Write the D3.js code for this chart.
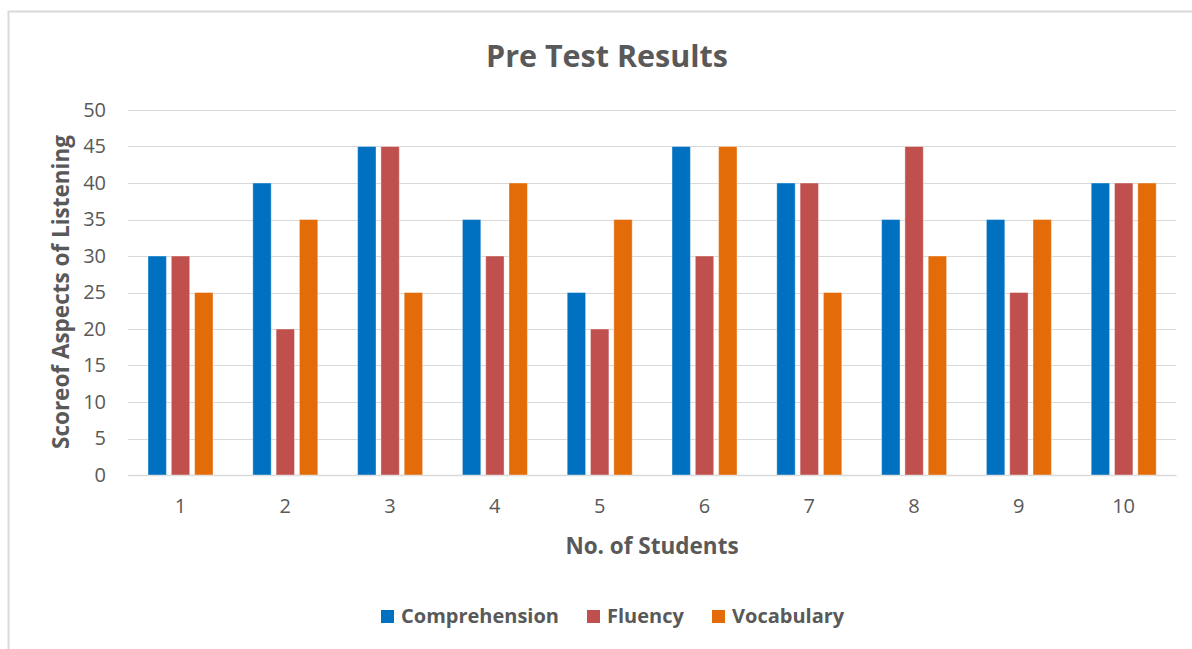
<!DOCTYPE html>
<html>
<head>
<meta charset="utf-8">
<script src="https://cdn.jsdelivr.net/npm/d3@7"></script>
<style>
  body { margin: 0; background: #fff; }
  text { font-family: "Open Sans", Lato, sans-serif; fill: #595959; }
</style>
</head>
<body>
<div id="chart"></div>
<script>
// pre test results - grouped bars

const students = ["1", "2", "3", "4", "5", "6", "7", "8", "9", "10"];
const seriesNames = ["Comprehension", "Fluency", "Vocabulary"];
const seriesColors = ["#0070C0", "#C0504D", "#E36C09"];
const comprehension = [30, 40, 45, 35, 25, 45, 40, 35, 35, 40];
const fluency = [30, 20, 45, 30, 20, 30, 40, 45, 25, 40];
const vocabulary = [25, 35, 25, 40, 35, 45, 25, 30, 35, 40];
const yTicks = [0, 5, 10, 15, 20, 25, 30, 35, 40, 45, 50];

const W = 1192, H = 649;
const margin = { top: 110, right: 16, bottom: 174, left: 128 };
const width = W - margin.left - margin.right;
const height = H - margin.top - margin.bottom;

const svg = d3.select("#chart")
    .append("svg")
    .attr("width", W)
    .attr("height", H);

// chart border (only top and left are visible in the picture)
svg.append("rect")
    .attr("x", 8.5)
    .attr("y", 11.5)
    .attr("width", W + 20)
    .attr("height", H + 20)
    .attr("fill", "none")
    .attr("stroke", "#d9d9d9")
    .attr("stroke-width", 2);

const g = svg.append("g")
    .attr("transform", `translate(${margin.left}, ${margin.top})`);

const x0 = d3.scaleBand()
    .domain(students)
    .range([0, width])
    .padding(0);

const x1 = d3.scaleBand()
    .domain(seriesNames)
    .range([20, 85])
    .paddingInner(0.21);

const y = d3.scaleLinear()
    .domain([0, 50])
    .range([height, 0]);

// gridlines
g.selectAll(".grid")
    .data(yTicks)
    .enter()
    .append("line")
    .attr("x1", 0)
    .attr("x2", width)
    .attr("y1", d => Math.round(y(d)) + 0.5)
    .attr("y2", d => Math.round(y(d)) + 0.5)
    .attr("stroke", "#d9d9d9")
    .attr("stroke-width", 1.2);

// y axis labels
const yAxis = d3.axisLeft(y).tickValues(yTicks).tickSize(0).tickPadding(22);
g.append("g")
    .call(yAxis)
    .call(a => a.select(".domain").remove())
    .selectAll("text")
    .style("font-size", "20px")
    .style("font-family", "'Open Sans', sans-serif")
    .style("fill", "#595959");

// x axis
const xAxis = d3.axisBottom(x0).tickSize(0).tickPadding(24);
g.append("g")
    .attr("transform", `translate(0, ${height})`)
    .call(xAxis)
    .call(a => a.select(".domain").attr("stroke", "#d9d9d9").attr("stroke-width", 1.5))
    .selectAll("text")
    .style("font-size", "20px")
    .style("font-family", "'Open Sans', sans-serif")
    .style("fill", "#595959");

// bars
const rows = students.map((s, i) => ({
    student: s,
    values: [comprehension[i], fluency[i], vocabulary[i]]
}));

const groups = g.selectAll(".group")
    .data(rows)
    .enter()
    .append("g")
    .attr("transform", d => `translate(${x0(d.student)}, 0)`);

groups.selectAll("rect")
    .data(d => d.values.map((v, j) => ({ key: seriesNames[j], value: v, color: seriesColors[j] })))
    .enter()
    .append("rect")
    .attr("x", d => x1(d.key))
    .attr("y", d => y(d.value))
    .attr("width", x1.bandwidth())
    .attr("height", d => height - y(d.value))
    .attr("fill", d => d.color)
    .attr("stroke", "#fff")
    .attr("stroke-opacity", 0.4)
    .attr("stroke-width", 1);

// title
svg.append("text")
    .attr("x", 607)
    .attr("y", 67)
    .attr("text-anchor", "middle")
    .style("font-size", "30.5px")
    .style("font-weight", "bold")
    .text("Pre Test Results");

// axis titles
svg.append("text")
    .attr("x", 652)
    .attr("y", 554)
    .attr("text-anchor", "middle")
    .style("font-size", "22.5px")
    .style("font-weight", "bold")
    .text("No. of Students");

svg.append("text")
    .attr("transform", `translate(69, 292) rotate(-90)`)
    .attr("text-anchor", "middle")
    .style("font-size", "22.5px")
    .style("font-weight", "bold")
    .text("Scoreof Aspects of Listening");

// legend
const legendX = [381, 587, 712];
const legend = svg.selectAll(".legend")
    .data(seriesNames)
    .enter()
    .append("g")
    .attr("transform", (d, i) => `translate(${legendX[i]}, 610)`);

legend.append("rect")
    .attr("width", 13)
    .attr("height", 13)
    .attr("fill", (d, i) => seriesColors[i]);

legend.append("text")
    .attr("x", 20)
    .attr("y", 13)
    .style("font-size", "20px")
    .style("font-weight", "bold")
    .text(d => d);
</script>
</body>
</html>
